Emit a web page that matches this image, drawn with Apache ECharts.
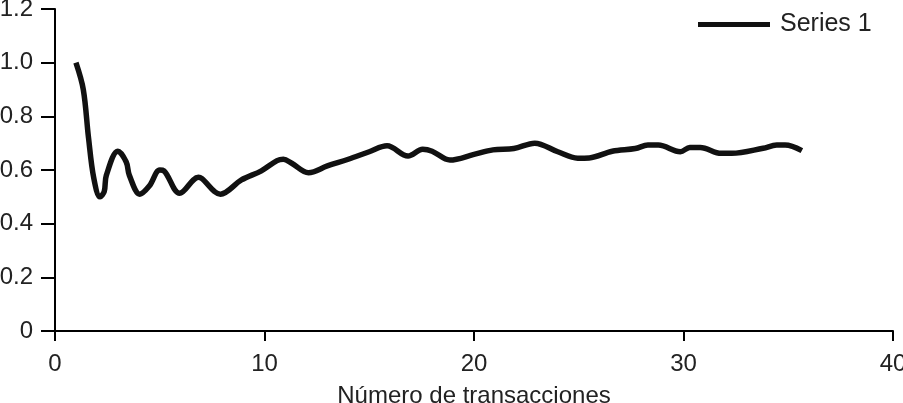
<!DOCTYPE html>
<html>
<head>
<meta charset="utf-8">
<script src="https://cdn.jsdelivr.net/npm/echarts@6/dist/echarts.min.js"></script>
<style>
  html, body { margin: 0; padding: 0; background: #fff; }
  #chart { width: 903px; height: 403px; }
</style>
</head>
<body>
<div id="chart"></div>
<script>
// transacciones (x) y proporción (y)
const xValues = [1, 1.35, 1.6, 1.85, 2.15, 2.35, 2.45, 3.0, 3.4, 3.55, 4.05, 4.5, 5.0, 5.2, 5.95,
  6.85, 7.0, 7.9, 8.9, 9.85, 10.6, 10.9, 11.3, 12.1, 13, 14, 15, 15.85, 16.85, 17.55, 18.0,
  18.85, 20, 20.9, 21.9, 22.9, 24, 24.95, 25.5, 26.6, 27.7, 28.3, 28.8, 29.85, 30.3, 30.8,
  31.8, 32.3, 33.8, 34.45, 34.85, 35.65];
const yValues = [1.0, 0.90, 0.72, 0.57, 0.50, 0.52, 0.58, 0.67, 0.63, 0.58, 0.51, 0.54, 0.60, 0.597, 0.513,
  0.573, 0.569, 0.51, 0.563, 0.597, 0.635, 0.64, 0.625, 0.59, 0.615, 0.64, 0.668, 0.69, 0.652, 0.677, 0.67,
  0.637, 0.658, 0.675, 0.68, 0.70, 0.668, 0.644, 0.645, 0.67, 0.68, 0.693, 0.693, 0.668, 0.684, 0.684,
  0.662, 0.662, 0.681, 0.693, 0.693, 0.672];
const seriesName = 'Series 1';
const xTitle = 'Número de transacciones';

const chart = echarts.init(document.getElementById('chart'));

const fontFamily = '"Liberation Sans", Arial, sans-serif';

chart.setOption({
  animation: false,
  grid: { left: 55, right: 10, top: 9, bottom: 72, outerBoundsMode: 'none' },
  legend: {
    data: [seriesName],
    left: 698,
    top: 12,
    padding: 0,
    icon: 'rect',
    itemWidth: 72,
    itemHeight: 5,
    textStyle: { fontFamily, fontSize: 25, color: '#222', padding: [0, 0, 0, 5] }
  },
  xAxis: {
    type: 'value',
    min: 0,
    max: 40,
    interval: 10,
    name: xTitle,
    nameLocation: 'middle',
    nameGap: 53,
    nameTextStyle: { fontFamily, fontSize: 24, color: '#222' },
    axisLine: { lineStyle: { color: '#000', width: 2 } },
    axisTick: { length: 10, lineStyle: { color: '#000', width: 2 } },
    axisLabel: { fontFamily, fontSize: 24, color: '#222', margin: 21 },
    splitLine: { show: false }
  },
  yAxis: {
    type: 'value',
    min: 0,
    max: 1.2,
    interval: 0.2,
    axisLine: { show: true, lineStyle: { color: '#000', width: 2 } },
    axisTick: { show: true, length: 14, lineStyle: { color: '#000', width: 2 } },
    axisLabel: {
      fontFamily, fontSize: 24, color: '#222', margin: 22,
      formatter: v => (v === 0 ? '0' : v.toFixed(1))
    },
    splitLine: { show: false }
  },
  series: [{
    name: seriesName,
    type: 'line',
    data: xValues.map((x, i) => [x, yValues[i]]),
    smooth: 0.35,
    showSymbol: false,
    lineStyle: { color: '#111', width: 5.5 },
    itemStyle: { color: '#111' }
  }]
});
</script>
</body>
</html>
